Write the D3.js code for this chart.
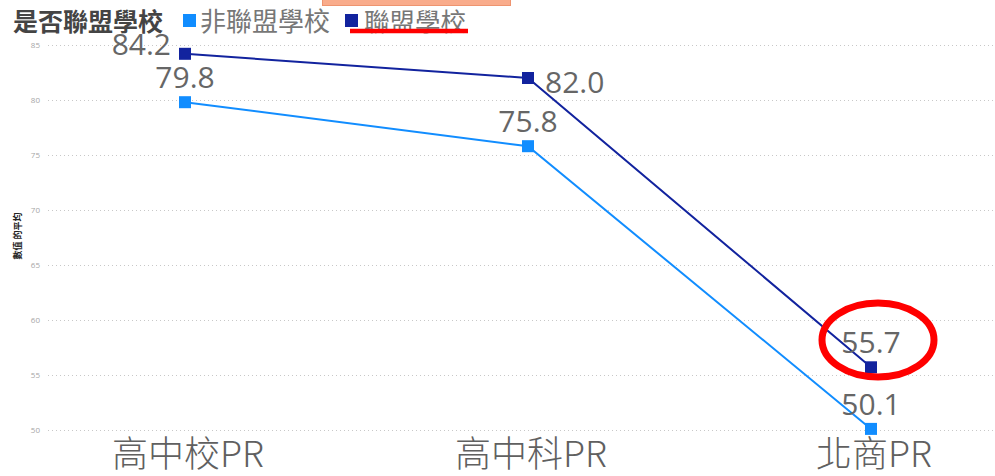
<!DOCTYPE html>
<html>
<head>
<meta charset="utf-8">
<script src="https://cdn.jsdelivr.net/npm/d3@7"></script>
<style>
  html, body { margin: 0; padding: 0; background: #fff; }
  svg { display: block; }
  .grid line { stroke: #c8c8c8; stroke-dasharray: 1 3; }
  .grid .domain { display: none; }
  .grid text { fill: #a6a6a6; font: 8px "Open Sans", sans-serif; }
</style>
</head>
<body>
<svg id="chart" width="995" height="476"></svg>
<script>
// Average PR by school group
const categories = ["高中校PR", "高中科PR", "北商PR"];
const nonMemberValues = [79.8, 75.8, 50.1];
const memberValues = [84.2, 82.0, 55.7];
const seriesNames = ["非聯盟學校", "聯盟學校"];
const yTicks = [50, 55, 60, 65, 70, 75, 80, 85];
const legendTitle = "是否聯盟學校";
const yTitle = "數值 的平均";

const W = 995, H = 476;
const svg = d3.select("#chart");

const x = d3.scalePoint().domain(categories).range([185, 871]);
const y = d3.scaleLinear().domain([50, 85]).range([430, 45]);

const colors = ["#118DFF", "#12239E"];
const cjk = '"Noto Sans CJK TC", "Noto Sans CJK SC", sans-serif';
const num = '"Open Sans", "Noto Sans", sans-serif';

// callout box at the very top
svg.append("rect")
  .attr("x", 322.5).attr("y", -2).attr("width", 188).attr("height", 7.5)
  .attr("fill", "#F9AC8C").attr("stroke", "#EE9470").attr("stroke-width", 1);

// dotted gridlines with tick labels
const gridX = 48;
svg.append("g")
  .attr("class", "grid")
  .attr("transform", `translate(${gridX},0)`)
  .call(d3.axisLeft(y).tickValues(yTicks).tickSize(-(W - gridX)).tickPadding(8));

// y-axis title
svg.append("text")
  .attr("transform", "translate(21,236) rotate(-90)")
  .attr("text-anchor", "middle")
  .attr("fill", "#222")
  .attr("font-family", cjk)
  .attr("font-weight", "bold")
  .attr("font-size", 9)
  .text(yTitle);

// category labels
svg.append("g").selectAll("text")
  .data(categories)
  .join("text")
  .attr("x", d => x(d) + 3)
  .attr("y", 467)
  .attr("text-anchor", "middle")
  .attr("fill", "#606060")
  .attr("font-family", cjk)
  .attr("font-weight", 300)
  .attr("font-size", 36)
  .text(d => d);

// series lines and square markers
const series = [
  { name: seriesNames[0], values: nonMemberValues, color: colors[0] },
  { name: seriesNames[1], values: memberValues, color: colors[1] }
];
const line = d3.line().x(d => x(d.c)).y(d => y(d.v));

series.forEach(s => {
  const pts = categories.map((c, i) => ({ c, v: s.values[i] }));
  svg.append("path")
    .datum(pts)
    .attr("d", line)
    .attr("fill", "none")
    .attr("stroke", s.color)
    .attr("stroke-width", 2);
  svg.append("g").selectAll("rect")
    .data(pts)
    .join("rect")
    .attr("x", d => x(d.c) - 6)
    .attr("y", d => y(d.v) - 6)
    .attr("width", 12).attr("height", 12)
    .attr("fill", s.color);
});

// data labels: placement offsets per point
const labelPlacement = [
  [{ dx: 0, dy: -14, anchor: "middle" }, { dx: 0, dy: -14, anchor: "middle" }, { dx: 0, dy: -14, anchor: "middle" }],
  [{ dx: -14, dy: 1, anchor: "end" }, { dx: 17, dy: 15, anchor: "start" }, { dx: 0, dy: -14, anchor: "middle" }]
];
series.forEach((s, si) => {
  svg.append("g").selectAll("text")
    .data(s.values)
    .join("text")
    .attr("x", (v, i) => x(categories[i]) + labelPlacement[si][i].dx)
    .attr("y", (v, i) => y(v) + labelPlacement[si][i].dy)
    .attr("text-anchor", (v, i) => labelPlacement[si][i].anchor)
    .attr("fill", "#666")
    .attr("font-family", num)
    .attr("font-size", 30)
    .text(v => v.toFixed(1));
});

// legend
const legend = svg.append("g");
legend.append("text")
  .attr("x", 13).attr("y", 31)
  .attr("fill", "#444")
  .attr("font-family", cjk)
  .attr("font-weight", "bold")
  .attr("font-size", 25)
  .text(legendTitle);
const legendItems = [
  { sx: 183, tx: 200 },
  { sx: 345, tx: 364 }
];
series.forEach((s, i) => {
  legend.append("rect")
    .attr("x", legendItems[i].sx).attr("y", 14)
    .attr("width", 13).attr("height", 13)
    .attr("fill", s.color);
  legend.append("text")
    .attr("x", legendItems[i].tx).attr("y", 31)
    .attr("fill", "#777")
    .attr("font-family", cjk)
    .attr("font-size", i === 0 ? 26 : 25.5)
    .text(s.name);
});

// emphasis marks: underline on the member legend entry, ring round its last value
svg.append("line")
  .attr("x1", 350).attr("x2", 468).attr("y1", 31).attr("y2", 31)
  .attr("stroke", "#FF0000").attr("stroke-width", 4.5);
svg.append("ellipse")
  .attr("cx", x(categories[2]) + 7).attr("cy", 340)
  .attr("rx", 56).attr("ry", 37)
  .attr("fill", "none")
  .attr("stroke", "#FF0000").attr("stroke-width", 7);
</script>
</body>
</html>
